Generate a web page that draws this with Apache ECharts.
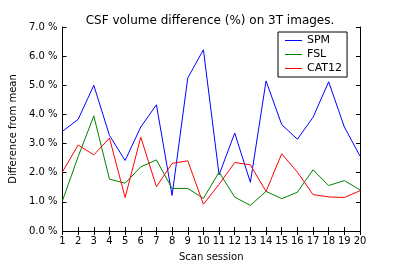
<!DOCTYPE html>
<html>
<head>
<meta charset="utf-8">
<script src="https://cdn.jsdelivr.net/npm/echarts@6/dist/echarts.min.js"></script>
<style>
html, body { margin: 0; padding: 0; background: #fff; }
#chart { width: 400px; height: 267px; }
</style>
</head>
<body>
<div id="chart"></div>
<script>
var sessions = ['1','2','3','4','5','6','7','8','9','10','11','12','13','14','15','16','17','18','19','20'];
var spm   = [3.42, 3.83, 5.0, 3.28, 2.42, 3.57, 4.33, 1.22, 5.25, 6.22, 1.93, 3.36, 1.67, 5.15, 3.65, 3.15, 3.9, 5.12, 3.57, 2.57];
var fsl   = [1.04, 2.55, 3.95, 1.78, 1.64, 2.2, 2.44, 1.46, 1.46, 1.12, 2.02, 1.16, 0.88, 1.36, 1.11, 1.33, 2.1, 1.56, 1.73, 1.41];
var cat12 = [2.03, 2.95, 2.61, 3.19, 1.15, 3.22, 1.52, 2.32, 2.41, 0.92, 1.6, 2.35, 2.27, 1.36, 2.65, 2.02, 1.25, 1.17, 1.15, 1.38];

var chartDom = document.getElementById('chart');
var myChart = echarts.init(chartDom);
var option;

var font = 'DejaVu Sans';

option = {
    animation: false,
    textStyle: { fontFamily: font },
    title: {
        text: 'CSF volume difference (%) on 3T images.',
        left: 205,
        textAlign: 'center',
        top: 10,
        textStyle: { fontFamily: font, fontSize: 12, fontWeight: 'normal', color: '#000' }
    },
    legend: {
        data: ['SPM', 'FSL', 'CAT12'],
        orient: 'vertical',
        left: 278,
        top: 32,
        icon: 'rect',
        itemWidth: 17,
        itemHeight: 1,
        itemGap: 3,
        itemTextGap: 11,
        padding: [3, 5, 3, 7],
        borderColor: '#000',
        borderWidth: 1,
        backgroundColor: '#fff',
        textStyle: { fontFamily: font, fontSize: 11, color: '#000' }
    },
    grid: { left: 50, right: 40, top: 27, bottom: 34 },
    xAxis: [
        {
            type: 'category',
            data: sessions,
            boundaryGap: false,
            name: 'Scan session',
            nameLocation: 'middle',
            nameGap: 21,
            nameTextStyle: { fontFamily: font, fontSize: 10, color: '#000' },
            axisLine: { lineStyle: { color: '#000', width: 1 } },
            axisTick: { inside: true, length: 4, interval: 0, lineStyle: { color: '#000' } },
            axisLabel: { fontFamily: font, fontSize: 10, color: '#000', margin: 5, interval: 0 },
            splitLine: { show: false }
        },
        {
            type: 'category',
            data: sessions,
            boundaryGap: false,
            position: 'top',
            axisLine: { lineStyle: { color: '#000', width: 1 } },
            axisTick: { inside: true, length: 4, interval: 0, lineStyle: { color: '#000' } },
            axisLabel: { show: false },
            splitLine: { show: false }
        }
    ],
    yAxis: [
        {
            type: 'value',
            min: 0,
            max: 7,
            interval: 1,
            name: 'Difference from mean',
            nameLocation: 'middle',
            nameGap: 37,
            nameTextStyle: { fontFamily: font, fontSize: 10, color: '#000' },
            axisLine: { show: true, lineStyle: { color: '#000', width: 1 } },
            axisTick: { show: true, inside: true, length: 4, lineStyle: { color: '#000' } },
            axisLabel: {
                fontFamily: font, fontSize: 10, color: '#000', margin: 5,
                formatter: function (v) { return v.toFixed(1) + ' %'; }
            },
            splitLine: { show: false }
        },
        {
            type: 'value',
            min: 0,
            max: 7,
            interval: 1,
            position: 'right',
            axisLine: { show: true, lineStyle: { color: '#000', width: 1 } },
            axisTick: { show: true, inside: true, length: 4, lineStyle: { color: '#000' } },
            axisLabel: { show: false },
            splitLine: { show: false }
        }
    ],
    series: [
        {
            name: 'SPM',
            type: 'line',
            data: spm,
            symbol: 'none',
            color: '#0000ff',
            lineStyle: { width: 1, color: '#0000ff' }
        },
        {
            name: 'FSL',
            type: 'line',
            data: fsl,
            symbol: 'none',
            color: '#008000',
            lineStyle: { width: 1, color: '#008000' }
        },
        {
            name: 'CAT12',
            type: 'line',
            data: cat12,
            symbol: 'none',
            color: '#ff0000',
            lineStyle: { width: 1, color: '#ff0000' }
        }
    ]
};

option && myChart.setOption(option);
</script>
</body>
</html>
